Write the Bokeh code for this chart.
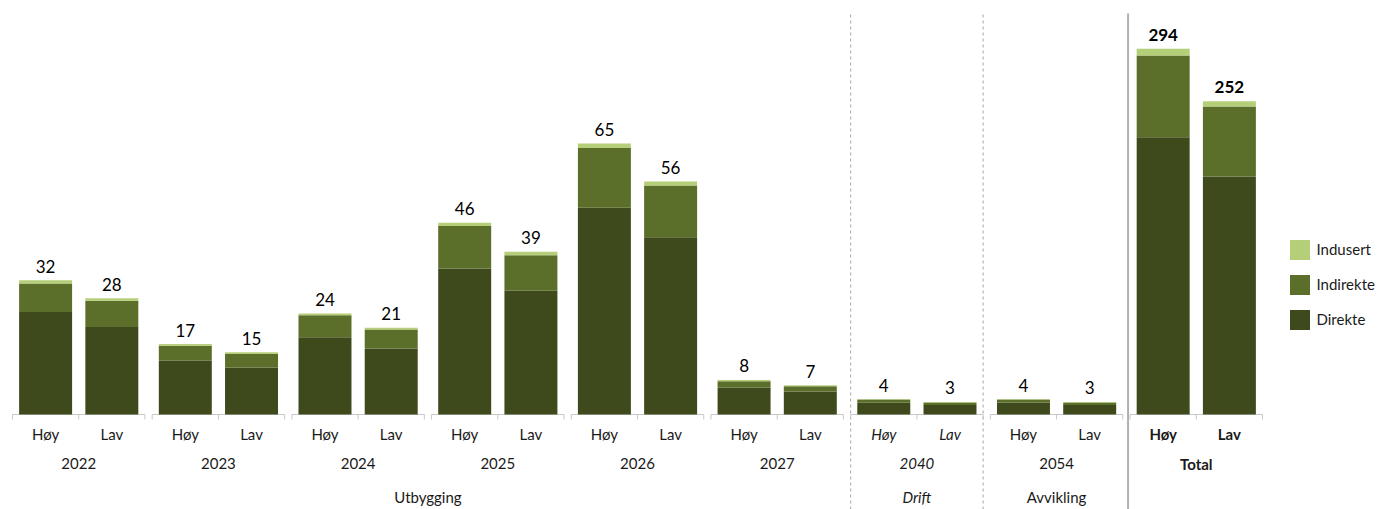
from bokeh.plotting import figure
from bokeh.layouts import row
from bokeh.models import ColumnDataSource, FactorRange, Range1d, Legend, LegendItem
from bokeh.transform import dodge
from bokeh.core.properties import value, field
from bokeh.embed import file_html
from bokeh.resources import INLINE

# ---------------- data ----------------
years = ["2022", "2023", "2024", "2025", "2026", "2027", "2040", "2054"]
year_styles = ["normal"] * 6 + ["italic", "normal"]
total_group = "Total"
scenarios = ["Høy", "Lav"]
phases = ["Utbygging", "Drift", "Avvikling"]
series = ["Direkte", "Indirekte", "Indusert"]

# per year: Høy, Lav
direkte = [24.6, 21.0, 12.9, 11.3, 18.5, 15.8, 35.0, 29.7, 49.6, 42.5, 6.5, 5.5, 2.8, 2.3, 2.9, 2.3]
indirekte = [6.8, 6.3, 3.6, 3.2, 5.3, 4.6, 10.2, 8.5, 14.3, 12.4, 1.5, 1.3, 0.8, 0.6, 0.7, 0.6]
indusert = [0.8, 0.6, 0.4, 0.4, 0.4, 0.4, 0.8, 0.8, 1.1, 1.0, 0.3, 0.2, 0.1, 0.1, 0.1, 0.1]

# total (own scale): Høy, Lav
total_direkte = [222.9, 191.3]
total_indirekte = [65.7, 56.3]
total_indusert = [5.4, 4.3]

colors = ["#3e4a1c", "#5b6e2a", "#b4cf78"]

# ---------------- layout constants ----------------
W, H = 1381, 509
LEG_W = 107
PW = W - LEG_W
BASE = 414            # canvas px of the zero line
PX_L = 4.17           # px per unit, year bars
PX_R = 1.244          # px per unit, total bars
UNIT = 66.25          # px per category
GP = 7.25 / UNIT
RP = 12.0 / UNIT
FONT = value("Lato")
TXT = "#1a1a1a"
LBL = "15px"

factors = [(g, s) for g in years + [total_group] for s in scenarios]
x_range = FactorRange(factors=factors, group_padding=GP, factor_padding=0.0,
                      range_padding=RP, range_padding_units="absolute")
below = H - BASE
y_range = Range1d(-below / PX_L, BASE / PX_L)

p = figure(width=PW, height=H, x_range=x_range, y_range=y_range,
           x_axis_location=None, y_axis_location=None,
           output_backend="svg", toolbar_location=None,
           min_border_left=0, min_border_top=0, min_border_bottom=0, min_border_right=0)
p.extra_y_ranges = {"total": Range1d(-below / PX_R, BASE / PX_R)}
p.outline_line_color = None
p.background_fill_color = None
p.border_fill_color = "white"
p.grid.visible = False

# ---------------- separators ----------------
y_top = y_range.end - 13 / PX_L
p.segment(x0=dodge("x", -0.5, range=x_range), x1=dodge("x", -0.5, range=x_range),
          y0=y_range.start, y1=y_top, source=ColumnDataSource(dict(x=[("2040", "Høy")])),
          line_color="#a6a6a6", line_width=1, line_dash="3 3")
p.segment(x0=dodge("x", 0.5, range=x_range), x1=dodge("x", 0.5, range=x_range),
          y0=y_range.start, y1=y_top, source=ColumnDataSource(dict(x=[("2040", "Lav")])),
          line_color="#a6a6a6", line_width=1, line_dash="3 3")
p.segment(x0=dodge("x", -0.53, range=x_range), x1=dodge("x", -0.53, range=x_range),
          y0=y_range.start, y1=y_top, source=ColumnDataSource(dict(x=[(total_group, "Høy")])),
          line_color="#b0b0b0", line_width=2)

# ---------------- baseline + ticks ----------------
groups_all = years + [total_group]
base_src = ColumnDataSource(dict(a=[(g, "Høy") for g in groups_all],
                                 b=[(g, "Lav") for g in groups_all]))
tick = 5 / PX_L
p.segment(x0=dodge("a", -0.5, range=x_range), x1=dodge("b", 0.5, range=x_range),
          y0=0, y1=0, source=base_src, line_color="#c8c8c8", line_width=1)
for col, off in (("a", -0.5), ("a", 0.5), ("b", 0.5)):
    p.segment(x0=dodge(col, off, range=x_range), x1=dodge(col, off, range=x_range),
              y0=0, y1=-tick, source=base_src, line_color="#c8c8c8", line_width=1)

# ---------------- bars ----------------
yr_x = [(g, s) for g in years for s in scenarios]
src = ColumnDataSource(dict(x=yr_x, Direkte=direkte, Indirekte=indirekte, Indusert=indusert))
p.vbar_stack(series, x="x", width=0.8, color=colors, line_color=None, source=src)

tot_x = [(total_group, s) for s in scenarios]
src_t = ColumnDataSource(dict(x=tot_x, Direkte=total_direkte, Indirekte=total_indirekte,
                              Indusert=total_indusert))
p.vbar_stack(series, x="x", width=0.8, color=colors, line_color=None, source=src_t,
             y_range_name="total")

# ---------------- value labels ----------------
yr_tot = [a + b + c for a, b, c in zip(direkte, indirekte, indusert)]
p.text(x="x", y="y", text="t",
       source=ColumnDataSource(dict(x=yr_x, y=yr_tot, t=[str(round(v)) for v in yr_tot])),
       text_font=FONT, text_font_size="17px", text_color="#000000",
       text_align="center", text_baseline="alphabetic", y_offset=-14)
tt = [a + b + c for a, b, c in zip(total_direkte, total_indirekte, total_indusert)]
p.text(x="x", y="y", text="t", y_range_name="total",
       source=ColumnDataSource(dict(x=tot_x, y=tt, t=[str(round(v)) for v in tt])),
       text_font=FONT, text_font_size="17px", text_font_style="bold", text_color="#000000",
       text_align="center", text_baseline="alphabetic", y_offset=-14)

# ---------------- category labels ----------------
sub_styles = [st for st in year_styles for _ in scenarios] + ["bold", "bold"]
p.text(x="x", y=0, text="t",
       source=ColumnDataSource(dict(x=factors, t=[f[1] for f in factors], st=sub_styles)),
       text_font=FONT, text_font_size=LBL, text_font_style=field("st"), text_color=TXT,
       text_align="center", text_baseline="alphabetic", y_offset=19)
p.text(x="x", y=0, text="t",
       source=ColumnDataSource(dict(x=groups_all, t=groups_all, st=year_styles + ["bold"])),
       text_font=FONT, text_font_size=LBL, text_font_style=field("st"), text_color=TXT,
       text_align="center", text_baseline="alphabetic", y_offset=49)
p.text(x=dodge("x", 0.5 + GP / 2, range=x_range), y=0, text="t",
       source=ColumnDataSource(dict(x=[("2024", "Lav")], t=[phases[0]])),
       text_font=FONT, text_font_size=LBL, text_color=TXT,
       text_align="center", text_baseline="alphabetic", y_offset=82)
p.text(x="x", y=0, text="t",
       source=ColumnDataSource(dict(x=["2040", "2054"], t=phases[1:], st=["italic", "normal"])),
       text_font=FONT, text_font_size=LBL, text_font_style=field("st"), text_color=TXT,
       text_align="center", text_baseline="alphabetic", y_offset=82)

# ---------------- legend (own small figure at the right) ----------------
lf = figure(width=LEG_W, height=H, x_range=Range1d(0, 1), y_range=Range1d(0, 1),
            x_axis_location=None, y_axis_location=None,
            output_backend="svg", toolbar_location=None,
            min_border_left=0, min_border_top=0, min_border_bottom=0, min_border_right=0)
lf.outline_line_color = None
lf.grid.visible = False
# zero-height proxy bars (invisible) so the legend has glyphs to draw
leg_r = [lf.vbar(x=[0.5], bottom=[0], top=[0], width=0.1, fill_color=c, line_color=None)
         for c in colors]
legend = Legend(items=[LegendItem(label=series[i], renderers=[leg_r[i]]) for i in (2, 1, 0)],
                location=(12.5, 177.5), glyph_width=25, glyph_height=25, spacing=10,
                label_standoff=5, padding=10, margin=0,
                border_line_color=None, background_fill_alpha=0,
                label_text_font="Lato", label_text_font_size=LBL, label_text_color=TXT)
lf.add_layout(legend, "center")

open("out.html", "w").write(file_html(row(p, lf, spacing=0), INLINE))
